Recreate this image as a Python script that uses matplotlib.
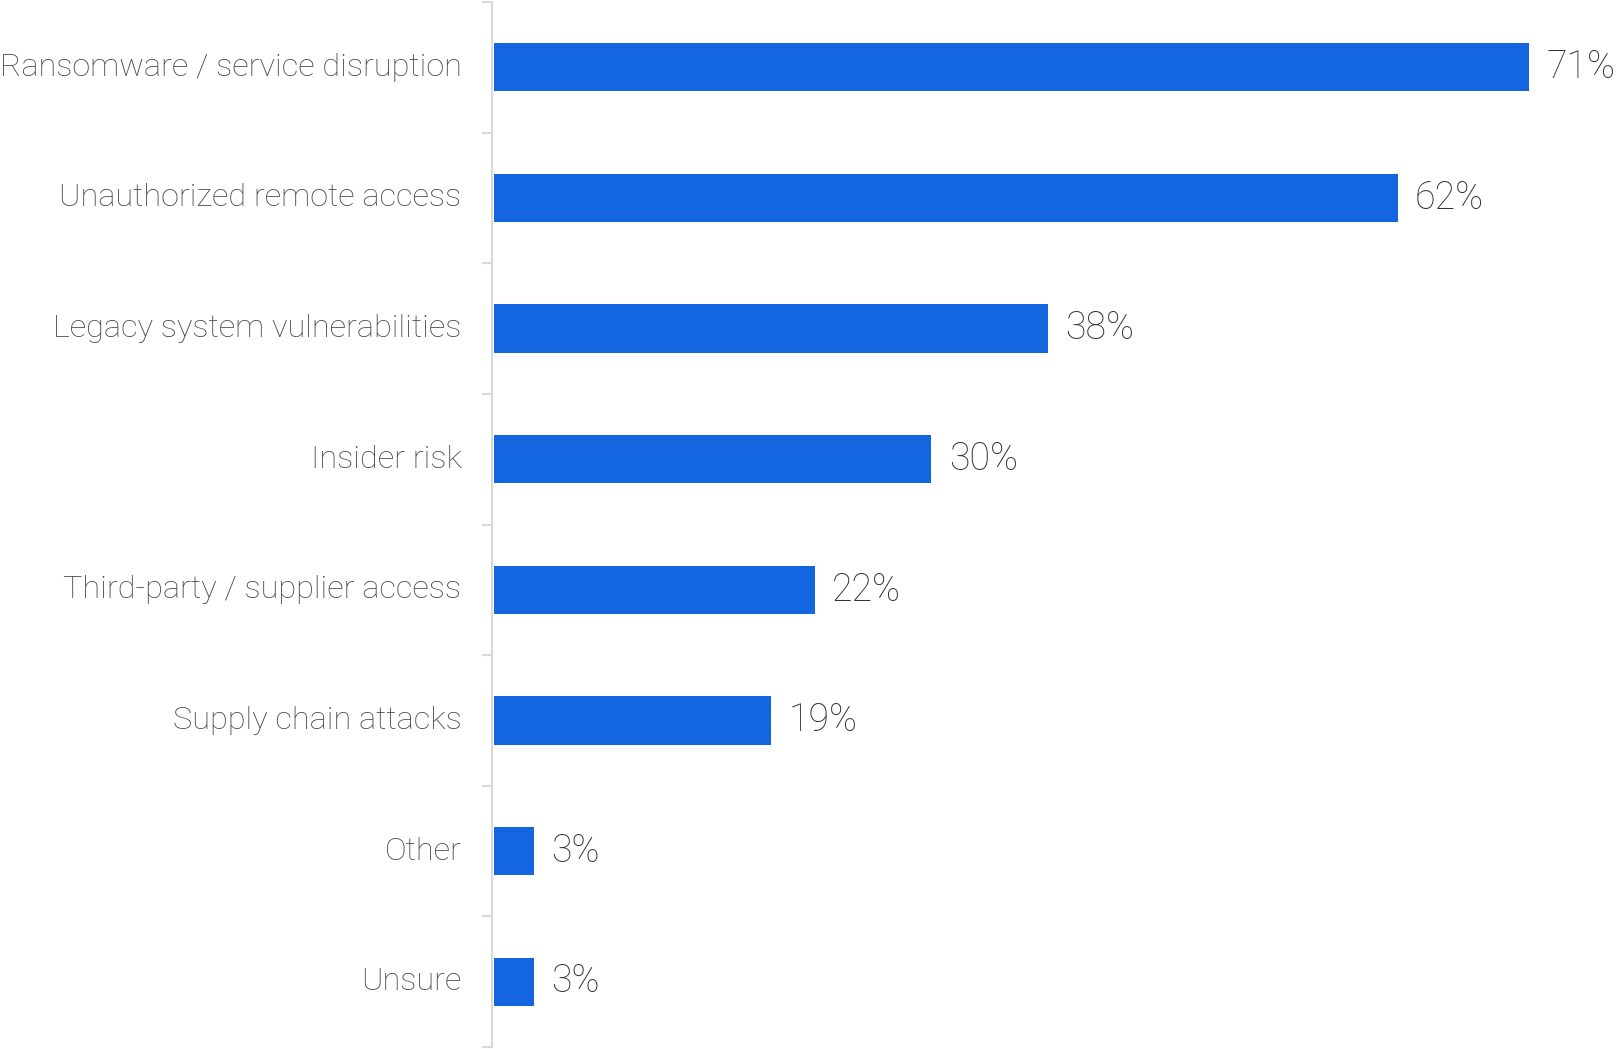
import matplotlib.pyplot as plt
import matplotlib.transforms as mtransforms
import numpy as np

# data
categories = ['Ransomware / service disruption', 'Unauthorized remote access',
              'Legacy system vulnerabilities', 'Insider risk',
              'Third-party / supplier access', 'Supply chain attacks',
              'Other', 'Unsure']
values = [71, 62, 38, 30, 22, 19, 2.7, 2.7]

plt.rcParams['font.family'] = ['Roboto', 'DejaVu Sans']

fig = plt.figure(figsize=(16.22, 10.49), dpi=100)
ax = fig.add_axes([492/1622, 2/1049, 1 - 492/1622, 1045/1049])

y = np.arange(len(categories))
ax.barh(y, values, height=0.37, color='#1366E0')
for yi, v in zip(y, values):
    ax.text(v + 1.2, yi, f'{round(v)}%', va='center', ha='left',
            fontsize=27, color='#333333', fontweight='light')

ax.set_ylim(len(categories) - 0.5, -0.5)
ax.set_xlim(-0.15, 77.4)
ax.set_yticks(y)
ax.set_yticklabels(categories, fontsize=23.4, color='#484848', fontweight='light')
ax.set_yticks(np.arange(-0.5, len(categories)), minor=True)
ax.tick_params(axis='y', which='major', length=0, pad=22)
ax.tick_params(axis='y', which='minor', length=7, width=1.5, color='#D9D9D9')
ax.set_xticks([])

# nudge category labels up a little
off = mtransforms.ScaledTranslation(0, 0.03, fig.dpi_scale_trans)
for lab in ax.get_yticklabels():
    lab.set_transform(lab.get_transform() + off)

for s in ['top', 'right', 'bottom']:
    ax.spines[s].set_visible(False)
ax.spines['left'].set_color('#D9D9D9')
ax.spines['left'].set_linewidth(1.5)

fig.savefig('out.png', dpi=100)
